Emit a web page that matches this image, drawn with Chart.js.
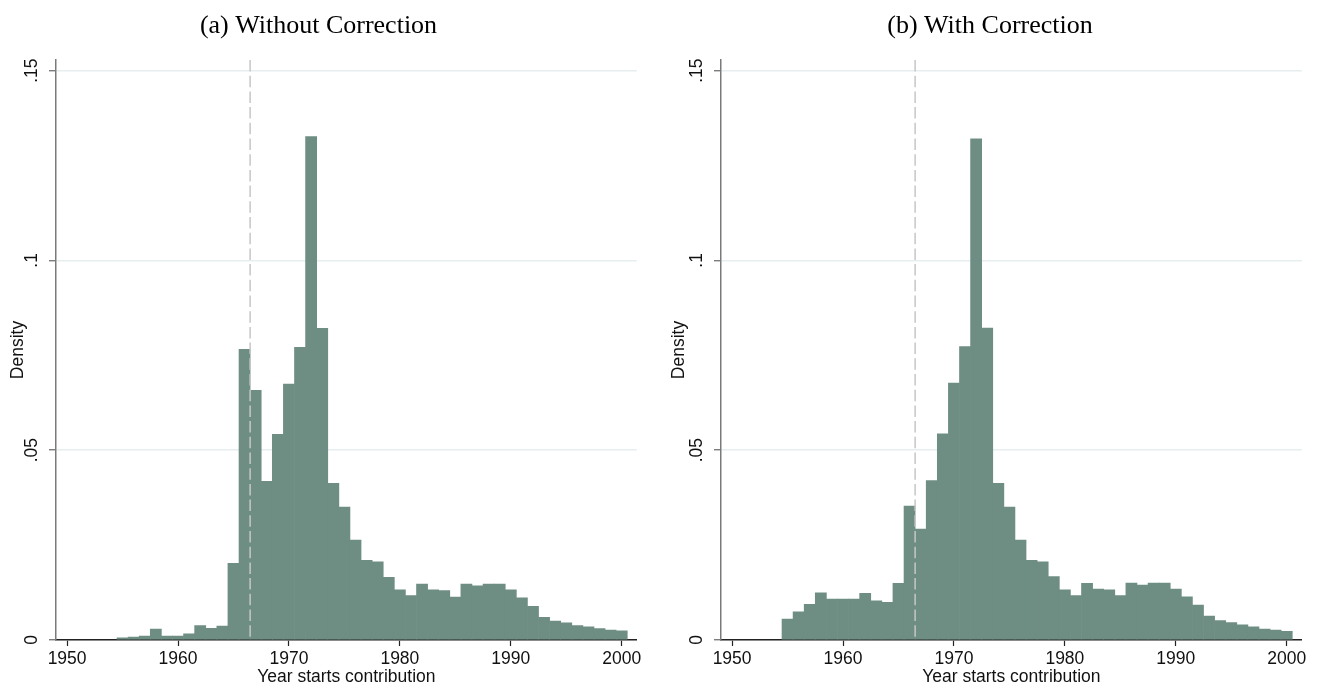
<!DOCTYPE html>
<html>
<head>
<meta charset="utf-8">
<script src="https://cdn.jsdelivr.net/npm/chart.js@4.4.1/dist/chart.umd.min.js"></script>
<style>
  html, body { margin: 0; padding: 0; background: #fff; }
  #wrap { position: relative; width: 1319px; height: 688px; overflow: hidden; }
  canvas { position: absolute; top: 0; }
  #left { left: 0; }
  #right { left: 661px; }
</style>
</head>
<body>
<div id="wrap">
  <canvas id="left" width="659" height="688"></canvas>
  <canvas id="right" width="658" height="688"></canvas>
</div>
<script>
// Histogram bins are one year wide, centred on each year.
const years = [
  1955, 1956, 1957, 1958, 1959, 1960, 1961, 1962, 1963, 1964,
  1965, 1966, 1967, 1968, 1969, 1970, 1971, 1972, 1973, 1974,
  1975, 1976, 1977, 1978, 1979, 1980, 1981, 1982, 1983, 1984,
  1985, 1986, 1987, 1988, 1989, 1990, 1991, 1992, 1993, 1994,
  1995, 1996, 1997, 1998, 1999, 2000,
];
const densityNoCorrection = [
  0.0006, 0.0008, 0.0010, 0.0029, 0.0010, 0.0010, 0.0016, 0.0038, 0.0031, 0.0037,
  0.0202, 0.0766, 0.0658, 0.0418, 0.0542, 0.0674, 0.0771, 0.1326, 0.0821, 0.0413,
  0.0350, 0.0263, 0.0210, 0.0206, 0.0165, 0.0132, 0.0117, 0.0147, 0.0132, 0.0130,
  0.0113, 0.0147, 0.0143, 0.0147, 0.0147, 0.0132, 0.0111, 0.0089, 0.0060, 0.0050,
  0.0045, 0.0038, 0.0035, 0.0030, 0.0026, 0.0024,
];
const densityCorrection = [
  0.0055, 0.0074, 0.0094, 0.0124, 0.0108, 0.0108, 0.0108, 0.0123, 0.0103, 0.0099,
  0.0149, 0.0353, 0.0292, 0.0420, 0.0543, 0.0677, 0.0773, 0.1320, 0.0822, 0.0413,
  0.0350, 0.0263, 0.0210, 0.0206, 0.0167, 0.0132, 0.0117, 0.0149, 0.0134, 0.0132,
  0.0117, 0.0150, 0.0145, 0.0150, 0.0150, 0.0134, 0.0114, 0.0092, 0.0063, 0.0051,
  0.0046, 0.0040, 0.0035, 0.0029, 0.0026, 0.0023,
];
const xTickYears = [1950, 1960, 1970, 1980, 1990, 2000];
const yTickValues = [0, 0.05, 0.1, 0.15];
const yTickLabels = ['0', '.05', '.1', '.15'];
const cutoffYear = 1966.5;
const panelTitles = ['(a) Without Correction', '(b) With Correction'];
const xTitle = 'Year starts contribution';
const yTitle = 'Density';

const BAR = '#6e8e83';
const TEXT = '#111';
const AXIS_FONT = { family: '"Liberation Sans", Arial, sans-serif', size: 17.5 };

// vertical dashed marker at the cutoff year
const cutoffLine = {
  id: 'cutoff-line',
  afterDatasetsDraw(chart) {
    const x = chart.scales.x.getPixelForValue(cutoffYear);
    const { top, bottom } = chart.chartArea;
    const ctx = chart.ctx;
    ctx.save();
    ctx.strokeStyle = '#c6c6c6';
    ctx.lineWidth = 1.5;
    ctx.setLineDash([11.5, 4.2]);
    ctx.beginPath();
    ctx.moveTo(x, top);
    ctx.lineTo(x, bottom);
    ctx.stroke();
    ctx.restore();
  },
};

// y tick labels are rotated (Stata style), drawn by hand
const yTickText = {
  id: 'y-tick-text',
  afterDraw(chart) {
    const y = chart.scales.y;
    const ctx = chart.ctx;
    ctx.save();
    ctx.font = `${AXIS_FONT.size}px ${AXIS_FONT.family}`;
    ctx.fillStyle = TEXT;
    ctx.textAlign = 'center';
    ctx.textBaseline = 'middle';
    yTickValues.forEach((v, i) => {
      ctx.save();
      ctx.translate(chart.chartArea.left - 23.5, y.getPixelForValue(v));
      ctx.rotate(-Math.PI / 2);
      ctx.fillText(yTickLabels[i], 0, 0);
      ctx.restore();
    });
    ctx.restore();
  },
};

const panelTitle = {
  id: 'panel-title',
  afterDraw(chart, _args, opts) {
    const ctx = chart.ctx;
    ctx.save();
    ctx.font = '26px "Liberation Serif", "Times New Roman", serif';
    ctx.fillStyle = '#000';
    ctx.textAlign = 'center';
    ctx.textBaseline = 'alphabetic';
    ctx.fillText(opts.text, opts.centerX, opts.baseline);
    ctx.restore();
  },
};

function makePanel(canvasId, values, title, titleCenter, yAxisWidth, padRight) {
  const canvas = document.getElementById(canvasId);
  return new Chart(canvas, {
    type: 'bar',
    data: {
      datasets: [{
        data: years.map((yr, i) => ({ x: yr, y: values[i] })),
        backgroundColor: BAR,
        borderWidth: 0,
        barPercentage: 1,
        categoryPercentage: 1,
      }],
    },
    options: {
      responsive: false, animation: false, devicePixelRatio: 1,
      layout: { padding: { top: 60, right: padRight, left: 0, bottom: 0 } },
      plugins: {
        legend: { display: false },
        tooltip: { enabled: false },
        'panel-title': { text: title, centerX: titleCenter, baseline: 33 },
      },
      scales: {
        x: {
          type: 'linear', min: 1949, max: 2001.35, bounds: 'data', offset: false,
          afterBuildTicks: s => { s.ticks = xTickYears.map(v => ({ value: v })); },
          afterFit: s => { s.height = 48; },
          ticks: { color: TEXT, font: AXIS_FONT, padding: 2.5, maxRotation: 0, autoSkip: false,
                   callback: v => String(v) },
          grid: { offset: false, drawOnChartArea: false, tickLength: 6, tickColor: '#222', tickWidth: 1.2 },
          border: { color: '#222', width: 1.5 },
          title: { display: true, text: xTitle, color: TEXT, font: AXIS_FONT, padding: { top: 1.1, bottom: 0 } },
        },
        y: {
          min: 0, max: 0.1528, bounds: 'data',
          afterBuildTicks: s => { s.ticks = yTickValues.map(v => ({ value: v })); },
          afterFit: s => { s.width = yAxisWidth; },
          ticks: { display: false },
          grid: { color: '#e6eef0', lineWidth: 1.5, tickLength: 7, tickColor: '#666', tickWidth: 1.2 },
          border: { color: '#7a7a7a', width: 1.5 },
          title: { display: true, text: yTitle, color: TEXT, font: AXIS_FONT, padding: { top: 7.8, bottom: 0 } },
        },
      },
    },
    plugins: [cutoffLine, yTickText, panelTitle],
  });
}

makePanel('left', densityNoCorrection, panelTitles[0], 318.5, 56, 22.3);
makePanel('right', densityCorrection, panelTitles[1], 329, 60, 17.3);
</script>
</body>
</html>
